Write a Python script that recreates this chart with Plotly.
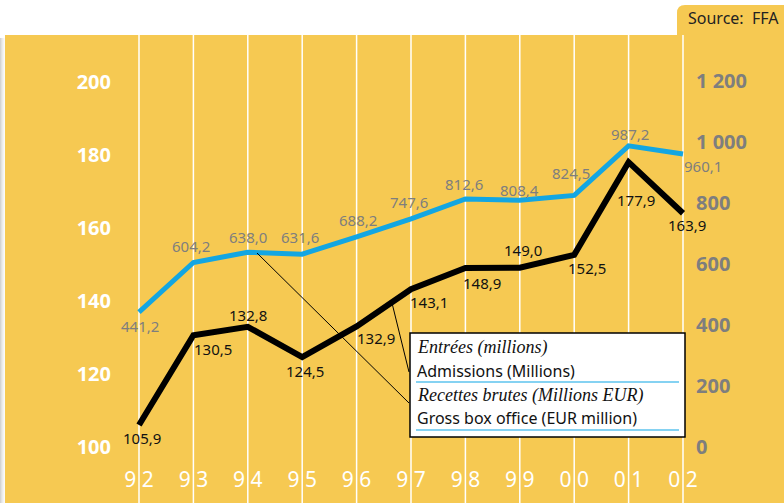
import plotly.graph_objects as go

# ---------------- data ----------------
years = ["92", "93", "94", "95", "96", "97", "98", "99", "00", "01", "02"]
admissions = [105.9, 130.5, 132.8, 124.5, 132.9, 143.1, 148.9, 149.0, 152.5, 177.9, 163.9]
box_office = [441.2, 604.2, 638.0, 631.6, 688.2, 747.6, 812.6, 808.4, 824.5, 987.2, 960.1]
left_ticks = [100, 120, 140, 160, 180, 200]
right_ticks = [0, 200, 400, 600, 800, 1000, 1200]
right_tick_labels = ["0", "200", "400", "600", "800", "1 000", "1 200"]
legend_lines = ["Entrées (millions)", "Admissions (Millions)",
                "Recettes brutes (Millions EUR)", "Gross box office (EUR million)"]
source_text = "Source:  FFA"

# ---------------- style ----------------
YELLOW = "#F6C952"
BLUE = "#13A6E2"
GRAY = "#7E7E7E"
FONT = "Noto Sans"
W, H = 784, 503
L, R, T, B = 116, 92, 35, 43
PW, PH = W - L - R, H - T - B


def px(x):
    return (x - L) / PW


def py(y):
    return (H - B - y) / PH


xi = list(range(len(years)))  # positions of the year categories on the x axis

# label offsets (pixels, right / down)
blue_off = [(1, 14), (-2, -16), (0, -15), (-2, -17), (1, -17), (-2, -17),
            (-1, -15), (0, -10), (-3, -22), (1, -12), (20, 12)]
black_off = [(3, 13), (20, 14), (0, -12), (3, 14), (19, 12), (18, 13),
             (17, 15), (3, -18), (13, 13), (7, 38), (4, 12)]

fig = go.Figure()
fig.add_trace(go.Scatter(x=xi, y=admissions, mode="lines", yaxis="y",
                         line=dict(color="black", width=6), hoverinfo="skip"))
fig.add_trace(go.Scatter(x=xi, y=box_office, mode="lines", yaxis="y2",
                         line=dict(color=BLUE, width=5), hoverinfo="skip"))

shapes = []
# yellow background
shapes.append(dict(type="rect", xref="paper", yref="paper", x0=px(5), x1=px(W + 5),
                   y0=py(H + 5), y1=py(35), fillcolor=YELLOW, line=dict(width=0), layer="below"))
# left shadow
for i, c in enumerate(["#d4d4d4", "#e2e2e2", "#ececec", "#f4f4f4", "#fafafa"]):
    shapes.append(dict(type="rect", xref="paper", yref="paper", x0=px(i), x1=px(i + 1),
                       y0=py(H + 5), y1=py(38), fillcolor=c, line=dict(width=0), layer="below"))
# source tab
x0, x1, y0, y1 = px(677), px(W + 5), py(35), py(5)
rx, ry = 8 / PW, 8 / PH
shapes.append(dict(type="path", xref="paper", yref="paper",
                   path=f"M {x0},{y0} L {x0},{y1 - ry} Q {x0},{y1} {x0 + rx},{y1} L {x1},{y1} L {x1},{y0} Z",
                   fillcolor=YELLOW, line=dict(width=0), layer="below"))
# vertical white grid lines
for x in xi:
    shapes.append(dict(type="line", xref="x", yref="paper", x0=x, x1=x,
                       y0=py(H + 5), y1=py(35), line=dict(color="white", width=1.5), layer="below"))
# legend box
shapes.append(dict(type="rect", xref="paper", yref="paper", x0=px(410), x1=px(685),
                   y0=py(437), y1=py(333), fillcolor="white", line=dict(color="black", width=1.5),
                   layer="above"))
for yy in [382, 430]:
    shapes.append(dict(type="line", xref="paper", yref="paper", x0=px(416), x1=px(679),
                       y0=py(yy), y1=py(yy), line=dict(color="#5CC3EE", width=1.5), layer="above"))
# leader lines
shapes.append(dict(type="line", xref="paper", yref="paper", x0=px(257), y0=py(253),
                   x1=px(409), y1=py(403), line=dict(color="black", width=1), layer="above"))
shapes.append(dict(type="line", xref="paper", yref="paper", x0=px(392), y0=py(303),
                   x1=px(409), y1=py(372), line=dict(color="black", width=1), layer="above"))

ann = []
for i in xi:
    dx, dy = blue_off[i]
    ann.append(dict(x=i, y=box_office[i], xref="x", yref="y2",
                    text=f"{box_office[i]:.1f}".replace(".", ","), showarrow=False,
                    xshift=dx, yshift=-dy, font=dict(family=FONT, size=15, color=GRAY)))
    dx, dy = black_off[i]
    ann.append(dict(x=i, y=admissions[i], xref="x", yref="y",
                    text=f"{admissions[i]:.1f}".replace(".", ","), showarrow=False,
                    xshift=dx, yshift=-dy, font=dict(family=FONT, size=15, color="#111111")))
# legend texts
leg_y = [347, 371, 395, 418]
for j, txt in enumerate(legend_lines):
    italic = j % 2 == 0
    ann.append(dict(x=px(415), y=py(leg_y[j]), xref="paper", yref="paper", xanchor="left",
                    yanchor="middle", showarrow=False,
                    text=f"<i>{txt}</i>" if italic else txt,
                    font=dict(family="Liberation Serif" if italic else FONT,
                              size=18 if italic else 16, color="#111111")))
ann.append(dict(x=px(686), y=py(18), xref="paper", yref="paper", xanchor="left",
                yanchor="middle", showarrow=False, text=source_text,
                font=dict(family=FONT, size=16, color="#222222")))

# axis ranges (pixel calibration)
y_scale = 3.65      # px per unit, left
y2_scale = 0.30458  # px per unit, right
base = 446.5
yl_range = [100 - (H - B - base) / y_scale, 100 + (base - T) / y_scale]
yr_range = [0 - (H - B - base) / y2_scale, (base - T) / y2_scale]
step = 54.4
x_range = [-(139 - L) / step, 10 + (L + PW - 683) / step]

fig.update_layout(
    template="none",
    width=W, height=H,
    margin=dict(l=L, r=R, t=T, b=B, autoexpand=False),
    paper_bgcolor="white", plot_bgcolor="rgba(0,0,0,0)",
    showlegend=False, hovermode=False,
    shapes=shapes, annotations=ann,
    xaxis=dict(range=x_range, tickvals=xi, automargin=False,
               ticktext=[y[0] + " " + y[1] for y in years],
               tickfont=dict(family=FONT, size=21, color="white"),
               showgrid=False, zeroline=False, showline=False, ticks="",
               ticklabelstandoff=5),
    yaxis=dict(range=yl_range, tickvals=left_ticks, automargin=False,
               tickfont=dict(family=FONT, size=20, color="white", weight="bold"),
               showgrid=False, zeroline=False, showline=False, ticks="",
               ticklabelstandoff=4),
    yaxis2=dict(range=yr_range, tickvals=right_ticks, ticktext=right_tick_labels,
                overlaying="y", side="right", anchor="x", automargin=False,
                tickfont=dict(family=FONT, size=20, color=GRAY, weight="bold"),
                showgrid=False, zeroline=False, showline=False, ticks="",
                ticklabelstandoff=3),
)

fig.write_html("out.html", config={"displayModeBar": False},
               post_script="document.body.style.margin='0';")
